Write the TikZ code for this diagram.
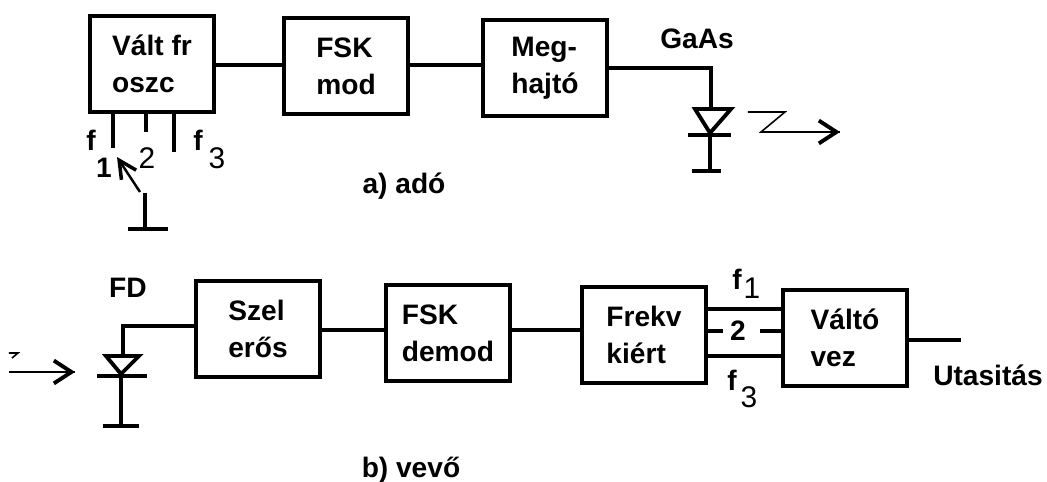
\documentclass[tikz,border=0pt]{standalone}
\usepackage{fontspec}
\setmainfont{Liberation Sans}
\usetikzlibrary{arrows.meta}
\tikzset{blok/.style = {draw, line width=1.1pt, minimum width=1.24cm, minimum height=0.96cm, align=left, inner sep=0, font=\fontsize{8}{10.6}\selectfont\bfseries}}
\tikzset{felirat/.style = {inner sep=0, font=\fontsize{8}{10}\selectfont\bfseries}}
\tikzset{szam/.style = {inner sep=0, font=\fontsize{8.5}{10}\selectfont}}
\tikzset{vonal/.style = {line width=1.1pt}}
\tikzset{sugar/.style = {line width=0.45pt}}
\tikzset{hegy/.style = {-{Straight Barb[length=5pt, width=6.5pt, line width=1.1pt]}}}

\begin{document}
\begin{tikzpicture}[x=0.01cm, y=-0.01cm]
    \useasboundingbox (0, 0) rectangle (1047, 482);

    % a) ado
    \node [blok] (valt) at (152, 64) {V\'alt fr\\oszc};
    \node [blok] (fsk) at (346, 66) {FSK\\mod};
    \node [blok] (meg) at (545, 68) {Meg-\\hajt\'o};
    \draw [vonal] (valt.east |- 0, 65) -- (fsk.west |- 0, 65);
    \draw [vonal] (fsk.east |- 0, 65) -- (meg.west |- 0, 65);

    \coordinate (ledtop) at (711, 108);
    \coordinate (ledcsucs) at (710, 133);
    \coordinate (ledfold) at (710, 171);
    \draw [vonal] (meg.east) -- (ledtop |- meg.east) -- (ledtop);
    \draw [vonal] (695, 109) -- (731, 109) -- (ledcsucs) -- cycle;
    \draw [vonal] (688, 135) -- (731, 135);
    \draw [vonal] (ledcsucs) -- (ledfold);
    \draw [vonal] (692, 171) -- (721, 171);
    \draw [sugar] (748, 112) -- (785, 112) -- (761, 132) -- (840, 132);
    \draw [sugar, hegy] (800, 132) -- (840, 132);
    \node [felirat] (gaas) at (697, 39) {GaAs};

    \draw [vonal] (valt.south -| 113, 0) -- (113, 148);
    \draw [vonal] (valt.south -| 146, 0) -- (146, 132);
    \draw [vonal] (valt.south -| 174, 0) -- (174, 152);
    \node [felirat] (f1) at (91, 140) {f};
    \node [felirat] (n1) at (104, 168) {1};
    \node [szam] (n2) at (147, 158) {2};
    \node [felirat] (f3) at (198, 140) {f};
    \node [szam] (n3) at (217, 158) {3};

    \coordinate (kapcs) at (145, 193);
    \draw [sugar, line width=0.7pt, -{Straight Barb[length=5pt, width=5pt, line width=1pt]}] (140, 192) -- (117, 157);
    \draw [vonal] (kapcs) -- (145, 229);
    \draw [vonal] (128, 229) -- (168, 229);
    \node [felirat] (ado) at (404, 186) {a) ad\'o};

    % b) vevo
    \node [blok] (szel) at (258, 329) {Szel\\er\H{o}s};
    \node [blok] (demod) at (448, 333) {FSK\\demod};
    \node [blok] (frekv) at (644, 335) {Frekv\\ki\'ert};
    \node [blok] (valto) at (845, 338) {V\'alt\'o\\vez};
    \draw [vonal] (szel.east |- 0, 330) -- (demod.west |- 0, 330);
    \draw [vonal] (demod.east |- 0, 330) -- (frekv.west |- 0, 330);

    \draw [vonal] (frekv.east |- 0, 309) -- (valto.west |- 0, 309);
    \draw [vonal] (frekv.east |- 0, 331) -- (723, 331);
    \draw [vonal] (760, 331) -- (valto.west |- 0, 331);
    \draw [vonal] (frekv.east |- 0, 356) -- (valto.west |- 0, 356);
    \node [felirat] (v2) at (738, 331) {2};
    \node [felirat] (vf1) at (737, 279) {f};
    \node [szam] (v1) at (752, 288) {1};
    \node [felirat] (vf3) at (732, 380) {f};
    \node [szam] (v3) at (749, 397) {3};

    \coordinate (utas) at (961, 340);
    \draw [vonal] (valto.east |- utas) -- (utas);
    \node [felirat] (utasitas) at (988, 375) {Utasit\'as};

    \coordinate (fdtop) at (123, 326);
    \coordinate (fdcsucs) at (121, 374);
    \draw [vonal] (szel.west |- fdtop) -- (fdtop) -- (123, 355);
    \draw [vonal] (106, 356) -- (139, 356) -- (fdcsucs) -- cycle;
    \draw [vonal] (97, 376) -- (147, 376);
    \draw [vonal] (fdcsucs) -- (121, 426);
    \draw [vonal] (103, 426) -- (139, 426);
    \node [felirat] (fd) at (128, 288) {FD};
    \draw [sugar] (9, 353) -- (18, 353) -- (12, 358);
    \draw [sugar] (9, 372) -- (75, 372);
    \draw [sugar, hegy] (40, 372) -- (75, 372);
    \node [felirat] (vevo) at (411, 470) {b) vev\H{o}};
\end{tikzpicture}
\end{document}
